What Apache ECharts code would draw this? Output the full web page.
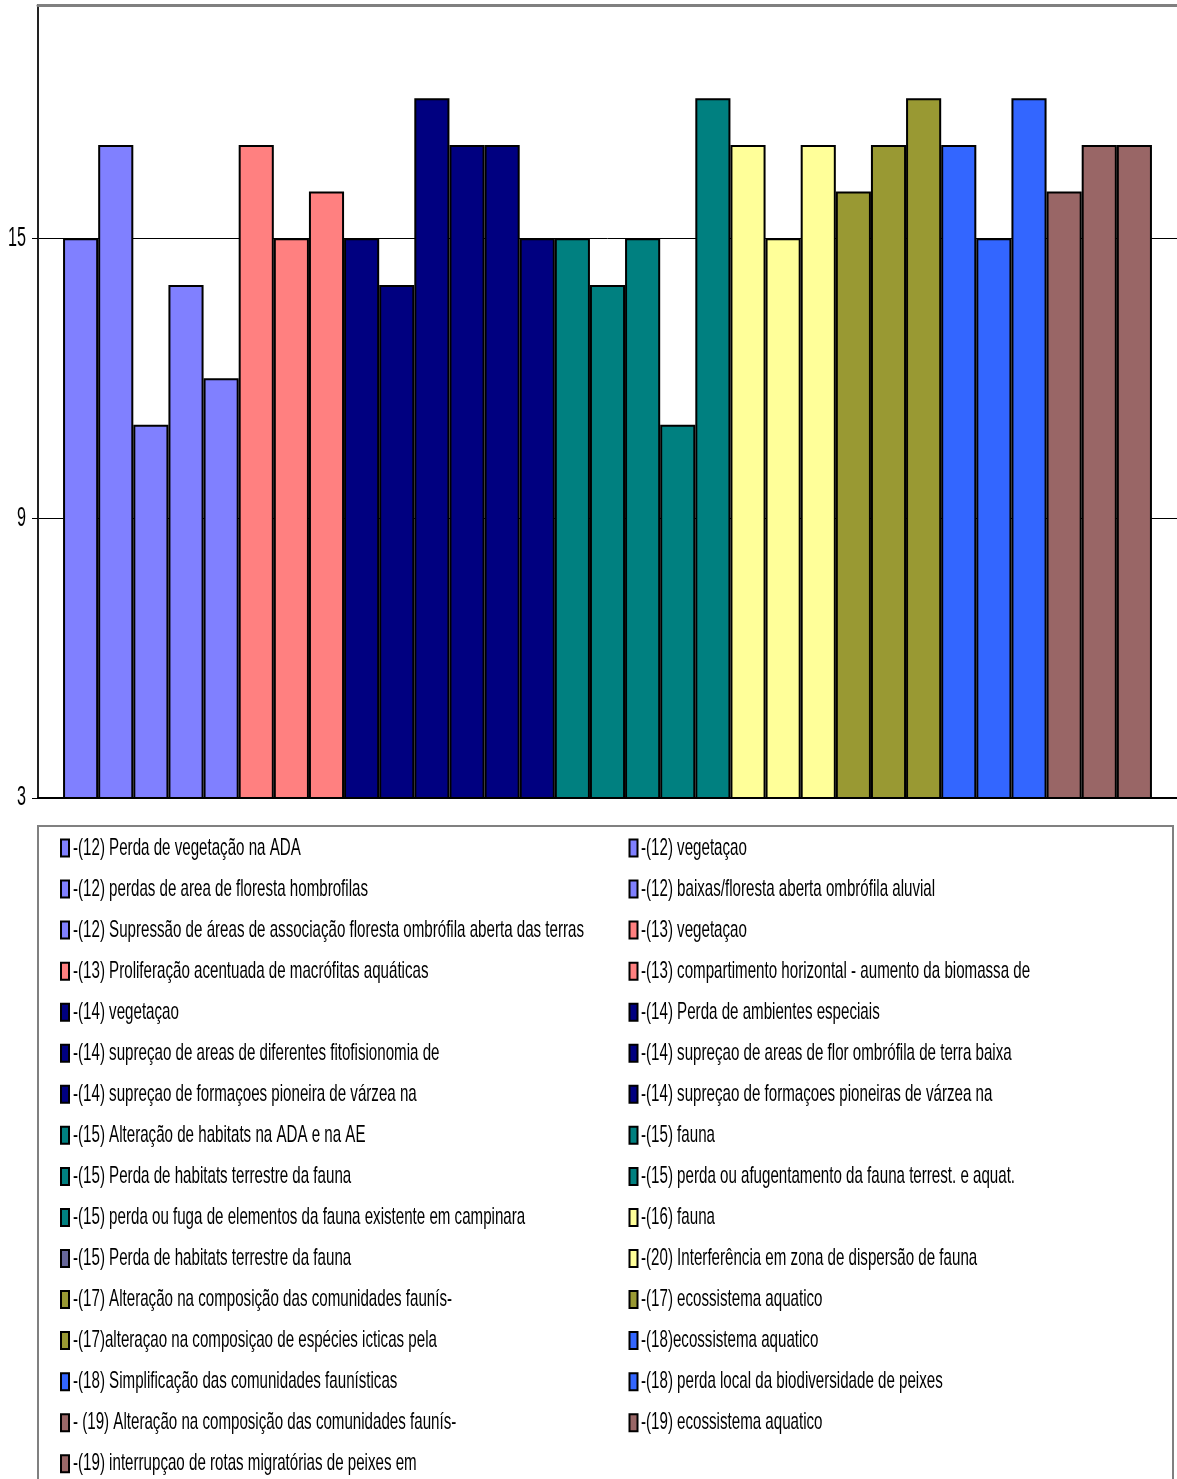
<!DOCTYPE html>
<html>
<head>
<meta charset="utf-8">
<script src="https://cdn.jsdelivr.net/npm/echarts@6/dist/echarts.min.js"></script>
<style>
  html, body { margin: 0; padding: 0; background: #fff; }
  #chart { width: 1177px; height: 1479px; }
</style>
</head>
<body>
<div id="chart"></div>
<script>
// Impact scores, one bar per impact entry
const impactNames = [
  '-(12) Perda de vegetação na ADA',
  '-(12) vegetaçao',
  '-(12) perdas de area de floresta hombrofilas',
  '-(12) baixas/floresta aberta ombrófila aluvial',
  '-(12) Supressão de áreas de associação floresta ombrófila aberta das terras',
  '-(13) vegetaçao',
  '-(13) Proliferação acentuada de macrófitas aquáticas',
  '-(13) compartimento horizontal - aumento da biomassa de',
  '-(14) vegetaçao',
  '-(14) Perda de ambientes especiais',
  '-(14) supreçao de areas de diferentes fitofisionomia de',
  '-(14) supreçao de areas de flor ombrófila de terra baixa',
  '-(14) supreçao de formaçoes pioneira de várzea na',
  '-(14) supreçao de formaçoes pioneiras de várzea na',
  '-(15) Alteração de habitats na ADA e na AE',
  '-(15) fauna',
  '-(15) Perda de habitats terrestre da fauna',
  '-(15) perda ou afugentamento da fauna terrest. e aquat.',
  '-(15) perda ou fuga de elementos da fauna existente em campinara',
  '-(16) fauna',
  '-(15) Perda de habitats terrestre da fauna',
  '-(20) Interferência em zona de dispersão de fauna',
  '-(17) Alteração na composição das comunidades faunís-',
  '-(17) ecossistema aquatico',
  '-(17)alteraçao na composiçao de espécies icticas pela',
  '-(18)ecossistema aquatico',
  '-(18) Simplificação das comunidades faunísticas',
  '-(18) perda local da biodiversidade de peixes',
  '- (19) Alteração na composição das comunidades faunís-',
  '-(19) ecossistema aquatico',
  '-(19) interrupçao de rotas migratórias de peixes em'
];

const impactValues = [
  15, 17, 11, 14, 12,
  17, 15, 16,
  15, 14, 18, 17, 17, 15,
  15, 14, 15, 11, 18,
  17, 15, 17,
  16, 17, 18,
  17, 15, 18,
  16, 17, 17
];

const yTicks = [3, 9, 15];

// Fill colours per group of bars
const LAV = '#8080FF', SAL = '#FF8080', NAVY = '#000080', TEAL = '#008080',
      YEL = '#FFFF99', OLV = '#999933', BLU = '#3366FF', BRN = '#996666';
const barColors = [
  LAV, LAV, LAV, LAV, LAV,
  SAL, SAL, SAL,
  NAVY, NAVY, NAVY, NAVY, NAVY, NAVY,
  TEAL, TEAL, TEAL, TEAL, TEAL,
  YEL, YEL, YEL,
  OLV, OLV, OLV,
  BLU, BLU, BLU,
  BRN, BRN, BRN
];
// legend swatches (one entry keeps its default series colour)
const swatchColors = barColors.slice();
swatchColors[20] = '#666699';

// narrow sans look: Arial-metric face squeezed horizontally
const LEGEND_FONT = '24px "Liberation Sans", Arial, sans-serif';
const TICK_FONT = '27px "Liberation Sans", Arial, sans-serif';
const SQUEEZE = 0.63;

const series = impactNames.map((name, i) => ({
  name: 's' + i,
  type: 'bar',
  data: [impactValues[i]],
  barGap: '0%',
  barCategoryGap: '4.4%',
  itemStyle: { color: barColors[i], borderColor: '#000', borderWidth: 2 },
  emphasis: { disabled: true }
}));

const chart = echarts.init(document.getElementById('chart'), null, { renderer: 'canvas' });
chart.setOption({
  animation: false,
  backgroundColor: '#fff',
  grid: { left: 38, top: 5, width: 1140, height: 793 },
  xAxis: [{
    type: 'category',
    data: [''],
    axisLine: { lineStyle: { color: '#000', width: 2 } },
    axisTick: { show: false },
    axisLabel: { show: false }
  }, {
    // plot-area top edge
    type: 'category',
    position: 'top',
    data: [''],
    axisLine: { lineStyle: { color: '#808080', width: 3 } },
    axisTick: { show: false },
    axisLabel: { show: false }
  }],
  yAxis: {
    type: 'value',
    min: 3, max: 20, interval: 6,
    axisLine: { show: true, lineStyle: { color: '#222', width: 2 } },
    axisTick: { show: true, length: 6, lineStyle: { color: '#000', width: 1 }, customValues: yTicks },
    axisLabel: { show: false },
    splitLine: { show: true, lineStyle: { color: '#000', width: 1 } }
  },
  series: series
});

// tick labels in the squeezed face, placed through the value axis
const graphics = [];
yTicks.forEach(v => {
  const py = chart.convertToPixel({ yAxisIndex: 0 }, v);
  graphics.push({
    type: 'text', x: 26, y: py, scaleX: 0.6, silent: true,
    style: { text: String(v), font: TICK_FONT, fill: '#000', align: 'right', verticalAlign: 'middle' }
  });
});

// legend box with two columns, filled row by row
graphics.push({
  type: 'rect', z: -1, silent: true,
  shape: { x: 38, y: 826, width: 1135, height: 700 },
  style: { fill: 'none', stroke: '#808080', lineWidth: 2 }
});
const ROW0 = 848, ROW_STEP = 41.05;
const COLS = [{ swatch: 61, text: 73 }, { swatch: 629.5, text: 641 }];
impactNames.forEach((name, i) => {
  const col = COLS[i % 2];
  const cy = ROW0 + Math.floor(i / 2) * ROW_STEP;
  graphics.push({
    type: 'rect', silent: true,
    shape: { x: col.swatch, y: cy - 8.5, width: 8, height: 17 },
    style: { fill: swatchColors[i], stroke: '#000', lineWidth: 2 }
  });
  graphics.push({
    type: 'text', x: col.text, y: cy, scaleX: SQUEEZE, silent: true,
    style: { text: name, font: LEGEND_FONT, fill: '#000', align: 'left', verticalAlign: 'middle' }
  });
});

chart.setOption({ graphic: graphics });
</script>
</body>
</html>
